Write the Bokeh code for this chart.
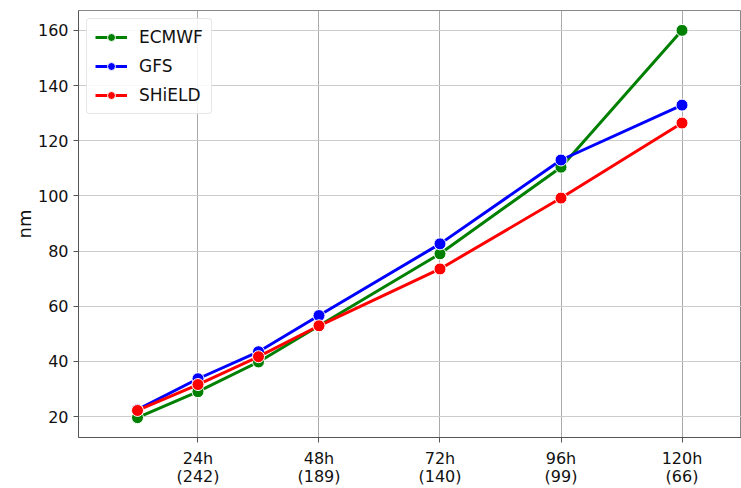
from bokeh.plotting import figure
from bokeh.models import Range1d, Legend, LegendItem, FixedTicker
from bokeh.embed import file_html
from bokeh.resources import INLINE

lead_hours = [12, 24, 36, 48, 72, 96, 120]
ecmwf = [19.6, 29.0, 39.8, 52.9, 79.0, 110.4, 160.0]
gfs = [22.5, 33.7, 43.5, 56.6, 82.6, 113.0, 132.9]
shield = [22.2, 31.6, 41.7, 52.9, 73.5, 99.2, 126.4]
tick_hours = [24, 48, 72, 96, 120]
tick_labels = ["24h\n(242)", "48h\n(189)", "72h\n(140)", "96h\n(99)", "120h\n(66)"]
y_ticks = [20, 40, 60, 80, 100, 120, 140, 160]

FONT = "DejaVu Sans"

p = figure(width=741, height=488, output_backend="svg", toolbar_location=None,
           x_range=Range1d(0.3, 131.8), y_range=Range1d(12.4, 167.2),
           min_border_left=78, min_border_top=10, min_border_bottom=10, min_border_right=0)

series = [("ECMWF", ecmwf, "#008000"), ("GFS", gfs, "#0000ff"), ("SHiELD", shield, "#ff0000")]
items = []
for name, vals, col in series:
    l = p.line(lead_hours, vals, line_color=col, line_width=3)
    s = p.scatter(lead_hours, vals, size=12, fill_color=col, line_color="white", line_width=1)
    items.append(LegendItem(label=name, renderers=[l, s]))

legend = Legend(items=items, location="top_left", label_text_font=FONT,
                label_text_font_size="17px", label_text_color="#111111",
                glyph_width=32, glyph_height=20,
                spacing=9, padding=8, margin=8, border_line_color="#d0d0d0",
                border_line_width=1, background_fill_alpha=0.85,
                label_standoff=12, border_radius=4)
p.add_layout(legend)

p.xaxis.ticker = FixedTicker(ticks=tick_hours)
p.xaxis.major_label_overrides = {h: t for h, t in zip(tick_hours, tick_labels)}
p.yaxis.ticker = FixedTicker(ticks=y_ticks)
for ax in (p.xaxis, p.yaxis):
    ax.major_label_text_font = FONT
    ax.major_label_text_font_size = "16px"
    ax.major_label_text_color = "#111111"
    ax.minor_tick_line_color = None
    ax.major_tick_out = 5
    ax.major_tick_in = 0
    ax.axis_line_color = "#555555"
    ax.major_tick_line_color = "#555555"
p.xaxis.major_label_standoff = 6
p.xaxis.major_label_text_line_height = 0.95
p.xaxis.axis_label = None
p.yaxis.axis_label = "nm"
p.yaxis.axis_label_text_font = FONT
p.yaxis.axis_label_text_font_size = "18px"
p.yaxis.axis_label_text_font_style = "normal"
p.yaxis.axis_label_text_color = "#111111"
p.yaxis.axis_label_standoff = 0

p.xgrid.grid_line_color = "#aaaaaa"
p.ygrid.grid_line_color = "#cccccc"
p.xgrid.grid_line_width = 1
p.ygrid.grid_line_width = 1
p.outline_line_color = "#888888"

open("out.html", "w").write(file_html(p, INLINE))
